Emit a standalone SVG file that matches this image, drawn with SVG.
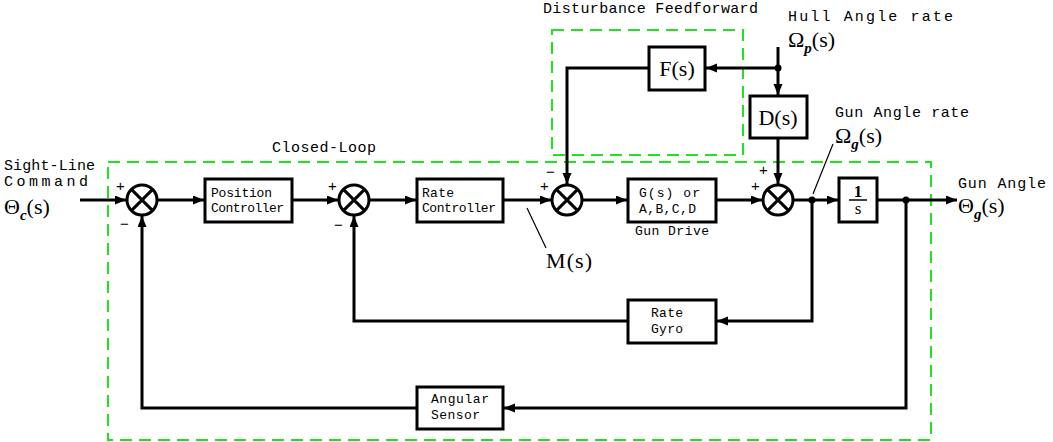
<svg xmlns="http://www.w3.org/2000/svg" width="1053" height="442" viewBox="0 0 1053 442">
<style>
.bx{fill:#fff;stroke:#000;stroke-width:3}
.ln{fill:none;stroke:#000;stroke-width:3}
.thin{fill:none;stroke:#000;stroke-width:1.2}
.dash{fill:none;stroke:#22e022;stroke-width:2;stroke-dasharray:12,7}
.t{font-family:"Liberation Mono",monospace;font-size:13px;fill:#000}
.tl{font-family:"Liberation Mono",monospace;font-size:15px;fill:#000}
.m{font-family:"Liberation Serif",serif;font-size:22px;fill:#000}
.sub{font-family:"Liberation Serif",serif;font-size:15px;font-weight:bold;font-style:italic;fill:#000}
.sg{font-family:"Liberation Sans",sans-serif;font-size:15px;fill:#000}
</style>
<defs>
<marker id="ar" markerUnits="userSpaceOnUse" markerWidth="12" markerHeight="10" refX="11" refY="4.5" orient="auto">
<path d="M0,0 L11,4.5 L0,9 z" fill="#000"/>
</marker>
</defs>
<rect width="1053" height="442" fill="#fff"/>

<g id="frames">
<rect class="dash" x="108" y="162" width="823" height="278"/>
<rect class="dash" x="552" y="30" width="191" height="125"/>
<text class="tl" x="272" y="152" textLength="104">Closed-Loop</text>
<text class="tl" x="543" y="13" textLength="215">Disturbance Feedforward</text>
</g>

<g id="connectors">
<line class="ln" x1="80" y1="200" x2="126" y2="200" marker-end="url(#ar)"/>
<line class="ln" x1="157" y1="200" x2="204" y2="200" marker-end="url(#ar)"/>
<line class="ln" x1="292" y1="200" x2="338" y2="200" marker-end="url(#ar)"/>
<line class="ln" x1="369" y1="200" x2="416" y2="200" marker-end="url(#ar)"/>
<line class="ln" x1="503" y1="200" x2="551" y2="200" marker-end="url(#ar)"/>
<line class="ln" x1="582" y1="200" x2="627" y2="200" marker-end="url(#ar)"/>
<line class="ln" x1="716" y1="200" x2="762" y2="200" marker-end="url(#ar)"/>
<line class="ln" x1="793" y1="200" x2="838" y2="200" marker-end="url(#ar)"/>
<line class="ln" x1="877" y1="200" x2="957" y2="200" marker-end="url(#ar)"/>
<line class="ln" x1="778" y1="47" x2="778" y2="95" marker-end="url(#ar)"/>
<line class="ln" x1="778" y1="68" x2="706" y2="68" marker-end="url(#ar)"/>
<polyline class="ln" points="649,68 567,68 567,184" marker-end="url(#ar)"/>
<line class="ln" x1="778" y1="137" x2="778" y2="184" marker-end="url(#ar)"/>
<polyline class="ln" points="812,200 812,321 717,321" marker-end="url(#ar)"/>
<polyline class="ln" points="628,321 354,321 354,216" marker-end="url(#ar)"/>
<polyline class="ln" points="906,200 906,408 504,408" marker-end="url(#ar)"/>
<polyline class="ln" points="417,408 142,408 142,216" marker-end="url(#ar)"/>
<circle cx="778" cy="68" r="3.5" fill="#000"/>
<circle cx="812" cy="200" r="3.5" fill="#000"/>
<circle cx="906" cy="200" r="3.5" fill="#000"/>
<line class="thin" x1="527" y1="208" x2="546" y2="248"/>
<line class="thin" x1="813" y1="194" x2="833" y2="144"/>
</g>

<g id="sum1">
<circle class="bx" cx="142" cy="200" r="15"/>
<path class="ln" d="M131.4,189.4 L152.6,210.6 M152.6,189.4 L131.4,210.6"/>
<text class="sg" x="116" y="191">+</text>
<text class="sg" x="120" y="229">−</text>
</g>
<g id="sum2">
<circle class="bx" cx="354" cy="200" r="15"/>
<path class="ln" d="M343.4,189.4 L364.6,210.6 M364.6,189.4 L343.4,210.6"/>
<text class="sg" x="328" y="191">+</text>
<text class="sg" x="334" y="230">−</text>
</g>
<g id="sum3">
<circle class="bx" cx="567" cy="200" r="15"/>
<path class="ln" d="M556.4,189.4 L577.6,210.6 M577.6,189.4 L556.4,210.6"/>
<text class="sg" x="546" y="177">−</text>
<text class="sg" x="540" y="191">+</text>
</g>
<g id="sum4">
<circle class="bx" cx="778" cy="200" r="15"/>
<path class="ln" d="M767.4,189.4 L788.6,210.6 M788.6,189.4 L767.4,210.6"/>
<text class="sg" x="759" y="175">+</text>
<text class="sg" x="751" y="191">+</text>
</g>

<g id="position-controller">
<rect class="bx" x="205" y="179" width="87" height="43"/>
<text class="t" x="211" y="197" textLength="61">Position</text>
<text class="t" x="211" y="212" textLength="73">Controller</text>
</g>
<g id="rate-controller">
<rect class="bx" x="417" y="179" width="86" height="43"/>
<text class="t" x="422" y="197" textLength="32">Rate</text>
<text class="t" x="422" y="212" textLength="74">Controller</text>
</g>
<g id="gun-drive">
<rect class="bx" x="628" y="179" width="88" height="43"/>
<text class="t" x="639" y="197" textLength="61">G(s) or</text>
<text class="t" x="639" y="213" textLength="57">A,B,C,D</text>
<text class="t" x="635" y="235" textLength="74">Gun Drive</text>
</g>
<g id="integrator">
<rect class="bx" x="839" y="178" width="38" height="44"/>
<text x="858" y="197" text-anchor="middle" font-family="Liberation Serif,serif" font-size="17" font-weight="bold">1</text>
<line x1="849" y1="200" x2="867" y2="200" stroke="#000" stroke-width="1.5"/>
<text x="858" y="214" text-anchor="middle" font-family="Liberation Serif,serif" font-size="17">s</text>
</g>
<g id="F">
<rect class="bx" x="649" y="47" width="56" height="43"/>
<text class="m" x="677" y="76" text-anchor="middle">F(s)</text>
</g>
<g id="D">
<rect class="bx" x="750" y="96" width="57" height="42"/>
<text class="m" x="778" y="125" text-anchor="middle">D(s)</text>
</g>
<g id="rate-gyro">
<rect class="bx" x="628" y="300" width="88" height="43"/>
<text class="t" x="651" y="317" textLength="32">Rate</text>
<text class="t" x="651" y="333" textLength="32">Gyro</text>
</g>
<g id="angular-sensor">
<rect class="bx" x="417" y="387" width="86" height="42"/>
<text class="t" x="431" y="403" textLength="58">Angular</text>
<text class="t" x="431" y="419" textLength="49">Sensor</text>
</g>

<g id="labels">
<text class="tl" x="4" y="170" textLength="91">Sight-Line</text>
<text class="tl" x="4" y="186" textLength="84">Command</text>
<text class="m" x="4" y="214">Θ<tspan class="sub" dy="6">c</tspan><tspan dy="-6">(s)</tspan></text>
<text class="tl" x="788" y="21" textLength="165">Hull Angle rate</text>
<text class="m" x="788" y="47">Ω<tspan class="sub" dy="6">p</tspan><tspan dy="-6">(s)</tspan></text>
<text class="tl" x="835" y="117" textLength="134">Gun Angle rate</text>
<text class="m" x="835" y="143">Ω<tspan class="sub" dy="6">g</tspan><tspan dy="-6">(s)</tspan></text>
<text class="tl" x="958" y="188" textLength="88">Gun Angle</text>
<text class="m" x="958" y="213">Θ<tspan class="sub" dy="6">g</tspan><tspan dy="-6">(s)</tspan></text>
<text class="m" x="546" y="268" textLength="46">M(s)</text>
</g>
</svg>
